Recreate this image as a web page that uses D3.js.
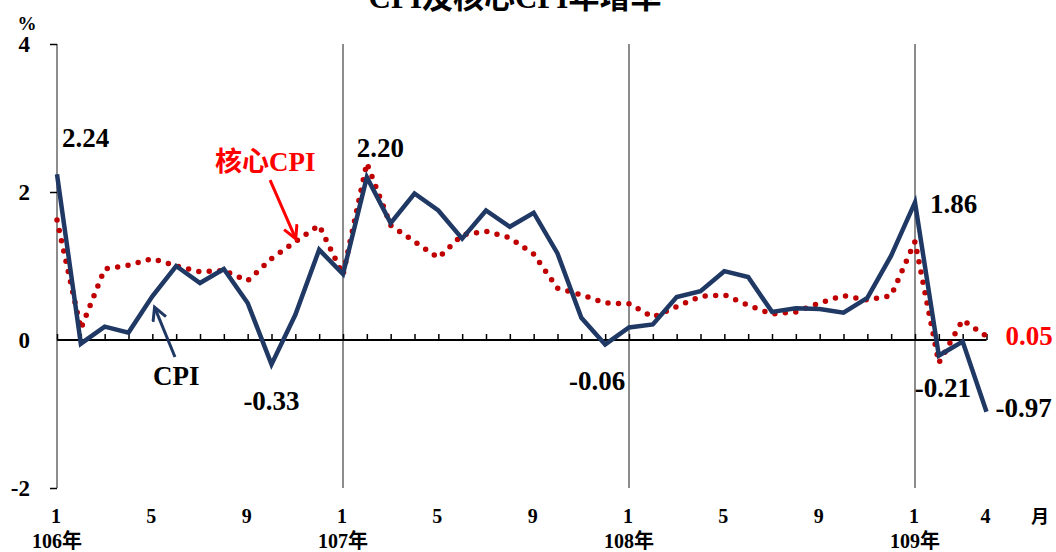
<!DOCTYPE html>
<html>
<head>
<meta charset="utf-8">
<script src="https://cdn.jsdelivr.net/npm/d3@7"></script>
<style>
  html, body { margin: 0; padding: 0; background: #fff; }
  svg { display: block; }
  text { font-family: "Liberation Serif", "Noto Sans CJK TC", serif; font-weight: bold; }
</style>
</head>
<body>
<svg id="chart"></svg>
<script>
// meses: 106年1月 .. 109年4月
const anos = ["106年", "107年", "108年", "109年"];
const mesesTick = [1, 5, 9];

const cpi = [
  2.24, -0.05, 0.18, 0.10, 0.59, 1.00, 0.77, 0.96, 0.50, -0.33, 0.34, 1.22,
  0.89, 2.20, 1.58, 1.98, 1.75, 1.37, 1.75, 1.53, 1.72, 1.17, 0.30, -0.06,
  0.17, 0.21, 0.58, 0.66, 0.93, 0.85, 0.38, 0.43, 0.42, 0.37, 0.57, 1.14,
  1.86, -0.21, -0.02, -0.97
];

const coreCpi = [
  1.62, 0.15, 0.96, 1.01, 1.10, 1.00, 0.92, 0.94, 0.80, 1.10, 1.33, 1.55,
  0.88, 2.39, 1.55, 1.33, 1.11, 1.42, 1.47, 1.38, 1.16, 0.70, 0.61, 0.50,
  0.49, 0.31, 0.45, 0.59, 0.61, 0.47, 0.35, 0.38, 0.50, 0.60, 0.54, 0.60,
  1.33, -0.31, 0.27, 0.05
];

const yTicks = [-2, 0, 2, 4];

// rótulos de valor (índice do mês)
const rotulosCpi = [0, 9, 13, 23, 36, 37, 39];

const largura = 1056;
const altura = 552;

// formato com hífen simples, como no original
const fmt = d3.formatLocale({ decimal: ".", thousands: ",", grouping: [3], currency: ["", ""], minus: "-" });
const fmt2 = fmt.format(".2f");
const fmtInt = fmt.format("d");

const svg = d3.select("#chart")
  .attr("width", largura)
  .attr("height", altura);

const x = d3.scaleLinear().domain([0, 39]).range([57, 57 + 39 * 286 / 12]);
const y = d3.scaleLinear().domain([-2, 4]).range([488, 44]);

const navy = "#1f3864";
const vermelho = "#c00000";

// titulo (cortado no topo, como no original)
svg.append("text")
  .attr("x", 515)
  .attr("y", 8)
  .attr("text-anchor", "middle")
  .style("font-size", "31px")
  .text("CPI及核心CPI年增率");

// linhas verticais em cada janeiro
svg.selectAll(".ano-linha")
  .data(anos)
  .enter().append("line")
  .attr("class", "ano-linha")
  .attr("x1", (d, i) => x(i * 12))
  .attr("x2", (d, i) => x(i * 12))
  .attr("y1", y(4))
  .attr("y2", y(-2))
  .style("stroke", "#8c8c8c")
  .style("stroke-width", 2);

// eixo y
const eixoY = svg.append("g")
  .attr("transform", `translate(${x(0)},0)`)
  .call(d3.axisLeft(y).tickValues(yTicks).tickSize(7).tickFormat(fmtInt));
eixoY.select(".domain").remove();
eixoY.selectAll(".tick line").style("stroke", "#000").style("stroke-width", 1.5);
eixoY.selectAll(".tick text")
  .attr("x", -27)
  .attr("text-anchor", "end")
  .style("font-family", "Liberation Serif")
  .style("font-weight", "bold")
  .style("font-size", "23px");
eixoY.selectAll(".tick").filter(d => d === 0).select("line").remove();

svg.append("text")
  .attr("x", 27)
  .attr("y", 30)
  .attr("text-anchor", "middle")
  .style("font-size", "19px")
  .text("%");

// eixo x na linha zero, ticks para cima
const eixoX = svg.append("g")
  .attr("transform", `translate(0,${y(0)})`)
  .call(d3.axisTop(x).tickValues(d3.range(0, 40)).tickSize(6).tickFormat(""));
eixoX.select(".domain")
  .attr("d", `M${x(0)},0H${x(39)}`)
  .style("stroke", "#000")
  .style("stroke-width", 2);
eixoX.selectAll(".tick line").style("stroke", "#000").style("stroke-width", 1.5);

// rótulos dos meses
const mesesIdx = [];
anos.forEach((a, i) => {
  mesesTick.forEach(m => {
    const idx = i * 12 + m - 1;
    if (idx < cpi.length) mesesIdx.push({ idx, m });
  });
});
mesesIdx.push({ idx: 39, m: 4 });

svg.selectAll(".mes")
  .data(mesesIdx)
  .enter().append("text")
  .attr("class", "mes")
  .attr("x", d => x(d.idx) - 1)
  .attr("y", 523)
  .attr("text-anchor", "middle")
  .style("font-size", "20px")
  .text(d => d.m);

svg.append("text")
  .attr("x", 1040)
  .attr("y", 523)
  .attr("text-anchor", "middle")
  .style("font-family", "Noto Sans CJK TC")
  .style("font-size", "18px")
  .text("月");

svg.selectAll(".ano")
  .data(anos)
  .enter().append("text")
  .attr("class", "ano")
  .attr("x", (d, i) => x(i * 12))
  .attr("y", 548)
  .attr("text-anchor", "middle")
  .style("font-size", "20px")
  .text(d => d);

// linhas
const linha = d3.line()
  .x((d, i) => x(i))
  .y(d => y(d));

svg.append("path")
  .datum(coreCpi)
  .attr("d", linha)
  .style("fill", "none")
  .style("stroke", vermelho)
  .style("stroke-width", 5.5)
  .style("stroke-linecap", "round")
  .style("stroke-dasharray", "0 10.5");

svg.append("path")
  .datum(cpi)
  .attr("d", linha)
  .style("fill", "none")
  .style("stroke", navy)
  .style("stroke-width", 4.5)
  .style("stroke-linejoin", "miter");

// rótulos de valores
const posRotulo = {
  0: { dx: 5, dy: -27, anchor: "start" },
  9: { dx: 0, dy: 46, anchor: "middle" },
  13: { dx: -10, dy: -20, anchor: "start" },
  23: { dx: 20, dy: 46, anchor: "end" },
  36: { dx: 15, dy: 11, anchor: "start" },
  37: { dx: -24, dy: 41, anchor: "start" },
  39: { dx: 9, dy: 5, anchor: "start" }
};

svg.selectAll(".rotulo")
  .data(rotulosCpi)
  .enter().append("text")
  .attr("class", "rotulo")
  .attr("x", i => x(i) + posRotulo[i].dx)
  .attr("y", i => y(cpi[i]) + posRotulo[i].dy)
  .attr("text-anchor", i => posRotulo[i].anchor)
  .style("font-size", "27px")
  .text(i => fmt2(cpi[i]));

svg.append("text")
  .attr("x", x(39) + 19)
  .attr("y", y(coreCpi[39]) + 9)
  .style("font-size", "27px")
  .style("fill", "red")
  .text(fmt2(coreCpi[39]));

// legendas com setas
const defs = svg.append("defs");
[["seta-vermelha", "red"], ["seta-azul", navy]].forEach(([id, cor]) => {
  defs.append("marker")
    .attr("id", id)
    .attr("markerUnits", "userSpaceOnUse")
    .attr("markerWidth", 20)
    .attr("markerHeight", 20)
    .attr("refX", 13)
    .attr("refY", 8)
    .attr("orient", "auto")
    .append("path")
    .attr("d", "M1,1 L14,8 L1,15")
    .style("fill", "none")
    .style("stroke", cor)
    .style("stroke-width", 3);
});

svg.append("line")
  .attr("x1", x(8.94)).attr("y1", y(2.16))
  .attr("x2", x(10)).attr("y2", y(1.38))
  .style("stroke", "red")
  .style("stroke-width", 3)
  .attr("marker-end", "url(#seta-vermelha)");

svg.append("text")
  .attr("x", 215)
  .attr("y", 171)
  .style("font-size", "27px")
  .style("fill", "red")
  .html('<tspan style="font-family:\'Noto Sans CJK TC\'">核心</tspan>CPI');

svg.append("line")
  .attr("x1", x(4.95)).attr("y1", y(-0.23))
  .attr("x2", x(4.11)).attr("y2", y(0.43))
  .style("stroke", navy)
  .style("stroke-width", 3)
  .attr("marker-end", "url(#seta-azul)");

svg.append("text")
  .attr("x", 153)
  .attr("y", 385)
  .style("font-size", "27px")
  .text("CPI");
</script>
</body>
</html>
